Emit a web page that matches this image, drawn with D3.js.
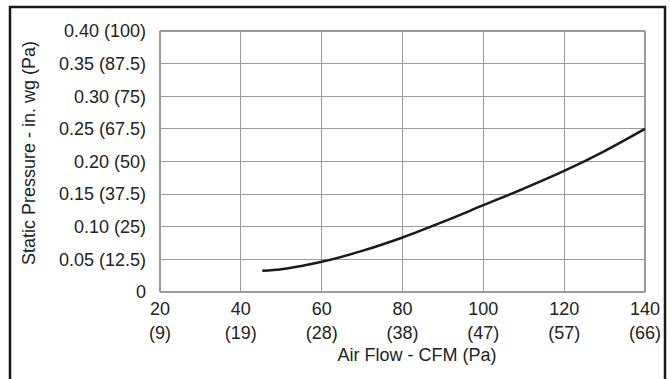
<!DOCTYPE html>
<html>
<head>
<meta charset="utf-8">
<script src="https://cdn.jsdelivr.net/npm/d3@7"></script>
<style>
  body { margin: 0; background: #fff; }
  svg { display: block; font-family: "Liberation Sans", Arial, sans-serif; }
</style>
</head>
<body>
<svg id="chart" width="670" height="379"></svg>
<script>
// air flow (CFM) vs static pressure (in. wg)
var airFlow  = [45.3, 50, 55, 60, 70, 80, 90, 100, 110, 120, 130, 140];
var pressure = [0.0326, 0.035, 0.040, 0.0463, 0.063, 0.0836, 0.1075, 0.133, 0.1585, 0.1855, 0.216, 0.250];

var xTicks = [20, 40, 60, 80, 100, 120, 140];
var xPaLabels = ["(9)", "(19)", "(28)", "(38)", "(47)", "(57)", "(66)"];
var yTicks = [0, 0.05, 0.10, 0.15, 0.20, 0.25, 0.30, 0.35, 0.40];
var yTickLabels = ["0", "0.05 (12.5)", "0.10 (25)", "0.15 (37.5)", "0.20 (50)",
                   "0.25 (67.5)", "0.30 (75)", "0.35 (87.5)", "0.40 (100)"];

var svg = d3.select("#chart");

var x = d3.scaleLinear().domain([20, 140]).range([160, 645]);
var y = d3.scaleLinear().domain([0, 0.4]).range([292, 31]);

var fontSize = "18px";

// outer frame
svg.append("rect")
  .attr("x", 10).attr("y", 7)
  .attr("width", 655).attr("height", 390)
  .style("fill", "none")
  .style("stroke", "#1a1a1a")
  .style("stroke-width", 2.5);

// grid
var grid = svg.append("g").attr("class", "grid");
grid.selectAll("line.v").data(xTicks).enter().append("line")
  .attr("class", "v")
  .attr("x1", function (d) { return x(d); })
  .attr("x2", function (d) { return x(d); })
  .attr("y1", y(0)).attr("y2", y(0.4));
grid.selectAll("line.h").data(yTicks).enter().append("line")
  .attr("class", "h")
  .attr("x1", x(20)).attr("x2", x(140))
  .attr("y1", function (d) { return y(d); })
  .attr("y2", function (d) { return y(d); });
grid.selectAll("line")
  .style("stroke", "#9a9a9a")
  .style("stroke-width", 1.2)
  .attr("shape-rendering", "crispEdges");

// y tick labels
svg.append("g").selectAll("text").data(yTicks).enter().append("text")
  .attr("x", x(20) - 14)
  .attr("y", function (d) { return y(d); })
  .attr("dy", "0.35em")
  .attr("text-anchor", "end")
  .style("font-size", fontSize)
  .style("fill", "#222")
  .text(function (d, i) { return yTickLabels[i]; });

// x tick labels, two rows
var xl = svg.append("g").selectAll("g").data(xTicks).enter().append("g");
xl.append("text")
  .attr("x", function (d) { return x(d); })
  .attr("y", 314.5)
  .attr("text-anchor", "middle")
  .style("font-size", fontSize)
  .style("fill", "#222")
  .text(function (d) { return d; });
xl.append("text")
  .attr("x", function (d) { return x(d); })
  .attr("y", 339)
  .attr("text-anchor", "middle")
  .style("font-size", fontSize)
  .style("fill", "#222")
  .text(function (d, i) { return xPaLabels[i]; });

// axis titles
svg.append("text")
  .attr("x", 417).attr("y", 360.5)
  .attr("text-anchor", "middle")
  .style("font-size", fontSize)
  .style("fill", "#222")
  .text("Air Flow - CFM (Pa)");

svg.append("text")
  .attr("transform", "translate(35,153) rotate(-90)")
  .attr("text-anchor", "middle")
  .style("font-size", fontSize)
  .style("fill", "#222")
  .text("Static Pressure - in. wg (Pa)");

// curve
var line = d3.line()
  .x(function (d) { return x(d[0]); })
  .y(function (d) { return y(d[1]); })
  .curve(d3.curveMonotoneX);

svg.append("path")
  .datum(d3.zip(airFlow, pressure))
  .attr("d", line)
  .style("fill", "none")
  .style("stroke", "#1a1a1a")
  .style("stroke-width", 2.5);
</script>
</body>
</html>
